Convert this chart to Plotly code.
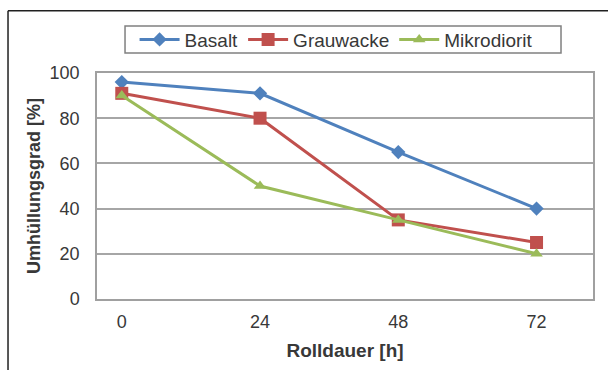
import plotly.graph_objects as go

hours = [0, 24, 48, 72]
basalt = [96, 91, 65, 40]
grauwacke = [91, 80, 35, 25]
mikrodiorit = [90, 50, 35, 20]
y_ticks = [0, 20, 40, 60, 80, 100]

FONT = "Liberation Sans, Arial, sans-serif"
TXT = "#383838"

fig = go.Figure()
fig.add_trace(go.Scatter(x=hours, y=basalt, name="Basalt", mode="lines+markers",
                         line=dict(color="#4f81bd", width=3),
                         marker=dict(symbol="diamond", size=11, color="#4f81bd")))
fig.add_trace(go.Scatter(x=hours, y=grauwacke, name="Grauwacke", mode="lines+markers",
                         line=dict(color="#c0504d", width=3),
                         marker=dict(symbol="square", size=13, color="#c0504d")))
fig.add_trace(go.Scatter(x=hours, y=mikrodiorit, name="Mikrodiorit", mode="lines+markers",
                         line=dict(color="#9bbb59", width=3),
                         marker=dict(symbol="triangle-up", size=11, color="#9bbb59")))

fig.update_layout(
    width=608, height=370,
    margin=dict(l=97, r=15, t=73, b=71),
    paper_bgcolor="white", plot_bgcolor="white",
    font=dict(family=FONT, size=18, color=TXT),
    showlegend=True,
    legend=dict(orientation="h", x=0.482, y=1.148, xanchor="center", yanchor="middle",
                bgcolor="rgba(0,0,0,0)", borderwidth=0, font=dict(size=19, color=TXT),
                itemwidth=40, tracegroupgap=0),
    xaxis=dict(range=[-4.3, 81.8], tickvals=hours, ticktext=[str(h) for h in hours],
               showgrid=False, zeroline=False, showline=True, linecolor="#a0a0a0",
               linewidth=1.5, mirror=True, ticks="", ticklen=0, ticklabelstandoff=6,
               title=dict(text="<b>Rolldauer [h]</b>", font=dict(size=19, color=TXT), standoff=12)),
    yaxis=dict(range=[0, 100], tickvals=y_ticks, showgrid=True, gridcolor="#a6a6a6", gridwidth=1.5,
               zeroline=False, showline=True, linecolor="#a0a0a0", linewidth=1.5, mirror=True,
               ticks="", ticklabelstandoff=12,
               title=dict(text="<b>Umhüllungsgrad [%]</b>", font=dict(size=18, color=TXT),
                          standoff=4)),
    shapes=[
        dict(type="line", xref="paper", yref="paper", x0=-0.1794, x1=-0.1794, y0=-0.5, y1=1.2757,
             line=dict(color="#202020", width=1.5)),
        dict(type="line", xref="paper", yref="paper", x0=-0.1794, x1=1.2, y0=1.2757, y1=1.2757,
             line=dict(color="#202020", width=1.5)),
        dict(type="rect", xref="paper", yref="paper", x0=0.0565, x1=0.9355, y0=1.0885, y1=1.208,
             line=dict(color="#808080", width=1.5), fillcolor="rgba(0,0,0,0)"),
    ],
)

fig.write_html("out.html", post_script="document.body.style.margin='0';",
               config={"displayModeBar": False})
